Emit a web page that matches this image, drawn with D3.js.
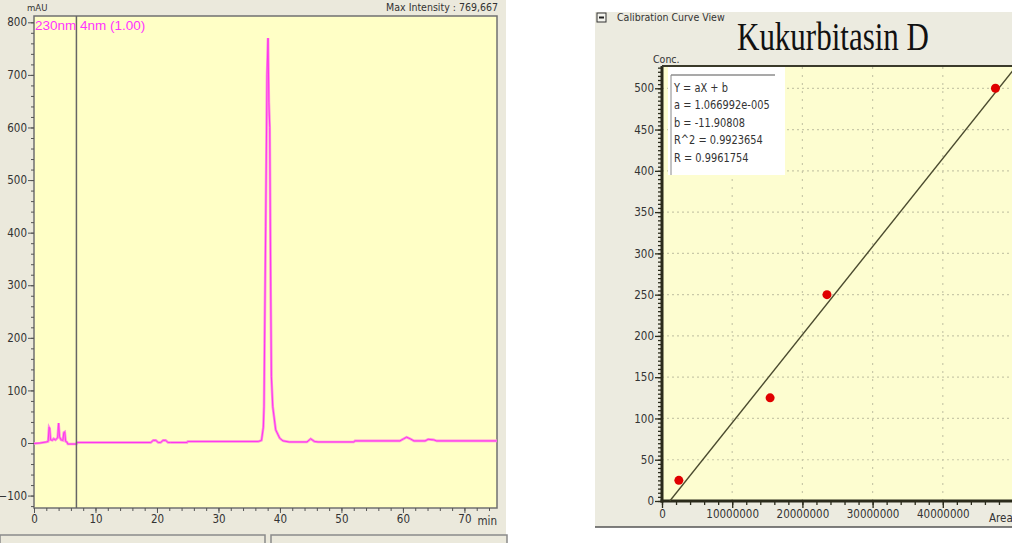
<!DOCTYPE html>
<html>
<head>
<meta charset="utf-8">
<script src="https://cdn.jsdelivr.net/npm/d3@7"></script>
<style>
  body { margin: 0; background: #fff; }
  svg { display: block; }
  .lbl { font-family: "Liberation Sans Narrow", "DejaVu Sans Condensed", "Liberation Sans", sans-serif; fill: #333; }
</style>
</head>
<body>
<svg width="1012" height="543"></svg>
<script>
// chromatogram (230nm), time in min, signal in mAU
const chromTime = [0, 1.0, 2.0, 2.3, 2.45, 2.55, 2.7, 3.0, 3.2, 3.5, 3.85, 4.0, 4.15, 4.4, 4.7, 4.85, 5.0, 5.15, 5.35, 5.5,
  6.9, 7.0, 19.0, 19.4, 19.8, 20.2, 20.6, 21.0, 21.4, 21.8, 22.2, 24.9, 25.0, 36.5, 37.0, 37.3, 37.41, 37.5, 37.68, 37.9,
  38.06, 38.2, 38.34, 38.5, 38.61, 38.83, 39.31, 39.97, 40.5, 41.5, 44.4, 45.0, 45.6, 46.2, 52.0, 52.2, 59.5, 60.1, 60.6, 61.2,
  61.8, 63.6, 64.1, 65.0, 65.5, 75.3];
const chromSignal = [-1, 0, 2, 3, 30, 28, 6, 5, 8, 6, 10, 38, 12, 6, 5, 20, 21, 3, 2, -2,
  -2, 1, 1, 5, 5, 1, 1, 5, 5, 1, 1, 1, 3, 3, 5, 30, 70, 190, 411, 700,
  770, 648, 600, 291, 126, 69, 25, 9, 4, 2, 2, 8, 3, 2, 2, 4, 4, 8, 11, 8,
  4, 4, 7, 6, 4, 4];
const markerTime = 6.9;
const chromYTicks = [-100, 0, 100, 200, 300, 400, 500, 600, 700, 800];
const chromXTicks = [0, 10, 20, 30, 40, 50, 60, 70];

// calibration standards
const calibArea = [2400000, 15400000, 23500000, 47500000];
const calibConc = [25, 125, 250, 500];
const slopeA = 1.066992e-5;
const interceptB = -11.90808;
const eqLines = ["Y = aX + b", "a = 1.066992e-005", "b = -11.90808", "R^2 = 0.9923654", "R = 0.9961754"];
const calibYTicks = [0, 50, 100, 150, 200, 250, 300, 350, 400, 450, 500];
const calibXTicks = [0, 10000000, 20000000, 30000000, 40000000];

const svg = d3.select("svg");

// ---------- left panel: chromatogram ----------
svg.append("rect").attr("x", 0).attr("y", 0).attr("width", 506).attr("height", 543).attr("fill", "#ebe9dc");

const xL = d3.scaleLinear().domain([0, 75.3]).range([34, 497]);
const yL = d3.scaleLinear().domain([-123.6, 812]).range([508, 16]);

svg.append("rect")
  .attr("x", xL(0)).attr("y", yL(812))
  .attr("width", xL(75.3) - xL(0)).attr("height", yL(-123.6) - yL(812))
  .attr("fill", "#ffffc6").attr("stroke", "#707070").attr("stroke-width", 1.5);

// minor + major ticks
svg.append("g").attr("transform", `translate(${xL(0)},0)`)
  .call(d3.axisLeft(yL).tickValues(d3.range(-120, 801, 20)).tickSize(3).tickFormat(""))
  .call(g => g.select(".domain").remove())
  .selectAll("line").attr("stroke", "#555");
svg.append("g").attr("transform", `translate(${xL(0)},0)`)
  .call(d3.axisLeft(yL).tickValues(chromYTicks).tickSize(6).tickPadding(1))
  .call(g => g.select(".domain").remove())
  .call(g => g.selectAll("line").attr("stroke", "#555"))
  .call(g => g.selectAll("text").attr("class", "lbl").attr("font-size", 11.5).attr("fill", "#333"));

svg.append("g").attr("transform", `translate(0,${yL(-123.6)})`)
  .call(d3.axisBottom(xL).tickValues(d3.range(0, 75, 2)).tickSize(3).tickFormat(""))
  .call(g => g.select(".domain").remove())
  .selectAll("line").attr("stroke", "#555");
svg.append("g").attr("transform", `translate(0,${yL(-123.6)})`)
  .call(d3.axisBottom(xL).tickValues(chromXTicks).tickSize(5).tickPadding(2))
  .call(g => g.select(".domain").remove())
  .call(g => g.selectAll("line").attr("stroke", "#555"))
  .call(g => g.selectAll("text").attr("class", "lbl").attr("font-size", 11.5).attr("fill", "#333"));

svg.append("text").attr("class", "lbl").attr("x", 497).attr("y", 525)
  .attr("text-anchor", "end").attr("font-size", 11.5).text("min");
svg.append("text").attr("class", "lbl").attr("x", 27).attr("y", 11)
  .attr("font-size", 9.5).text("mAU");
svg.append("text").attr("class", "lbl").attr("x", 498).attr("y", 11)
  .attr("text-anchor", "end").attr("font-size", 10.5).text("Max Intensity : 769,667");

// trace
const chromLine = d3.line().x((d, i) => xL(chromTime[i])).y(d => yL(d));
svg.append("path").datum(chromSignal).attr("d", chromLine)
  .attr("fill", "none").attr("stroke", "#ff8ee0").attr("stroke-width", 2.6);
svg.append("path").datum(chromSignal).attr("d", chromLine)
  .attr("fill", "none").attr("stroke", "#ff33ee").attr("stroke-width", 1);

// marker line
svg.append("line").attr("x1", xL(markerTime)).attr("x2", xL(markerTime))
  .attr("y1", yL(812)).attr("y2", yL(-123.6)).attr("stroke", "#666").attr("stroke-width", 1.5);

svg.append("text").attr("x", 35).attr("y", 30)
  .attr("font-family", "Liberation Sans, Arial, sans-serif").attr("font-size", 13.5)
  .attr("fill", "#ff33ff").text("230nm 4nm (1.00)");

// bottom tab strip
svg.append("rect").attr("x", 0).attr("y", 535).attr("width", 265).attr("height", 10)
  .attr("fill", "#ebe9dc").attr("stroke", "#8a8a8a").attr("stroke-width", 1.5);
svg.append("rect").attr("x", 271).attr("y", 535).attr("width", 236).attr("height", 10)
  .attr("fill", "#ebe9dc").attr("stroke", "#8a8a8a").attr("stroke-width", 1.5);

// ---------- right panel: calibration curve ----------
svg.append("rect").attr("x", 595).attr("y", 12).attr("width", 417).attr("height", 515).attr("fill", "#ecebe0");
svg.append("line").attr("x1", 595).attr("x2", 1012).attr("y1", 527).attr("y2", 527).attr("stroke", "#555").attr("stroke-width", 1.5);

const xR = d3.scaleLinear().domain([0, 50000000]).range([662, 1013]);
const yR = d3.scaleLinear().domain([0, 527]).range([501, 66]);

svg.append("rect").attr("x", xR(0)).attr("y", yR(527))
  .attr("width", 1012 - xR(0)).attr("height", yR(0) - yR(527)).attr("fill", "#fdfdd0");

// dotted grid
svg.append("g").selectAll("line").data(calibYTicks.slice(1)).join("line")
  .attr("x1", xR(0)).attr("x2", 1012).attr("y1", d => yR(d)).attr("y2", d => yR(d))
  .attr("stroke", "#c9c9a8").attr("stroke-width", 1.2).attr("stroke-dasharray", "2,3");
svg.append("g").selectAll("line").data(calibXTicks.slice(1)).join("line")
  .attr("x1", d => xR(d)).attr("x2", d => xR(d)).attr("y1", yR(0)).attr("y2", yR(527))
  .attr("stroke", "#c9c9a8").attr("stroke-width", 1.2).attr("stroke-dasharray", "2,6");

// axes
svg.append("g").attr("transform", `translate(${xR(0)},0)`)
  .call(d3.axisLeft(yR).tickValues(d3.range(0, 526, 5)).tickSize(4).tickFormat(""))
  .call(g => g.select(".domain").remove())
  .selectAll("line").attr("stroke", "#2b2b1b").attr("stroke-width", 1.3);
svg.append("g").attr("transform", `translate(${xR(0)},0)`)
  .call(d3.axisLeft(yR).tickValues(calibYTicks).tickSize(7).tickPadding(1))
  .call(g => g.select(".domain").remove())
  .call(g => g.selectAll("line").attr("stroke", "#2b2b1b").attr("stroke-width", 1.3))
  .call(g => g.selectAll("text").attr("class", "lbl").attr("font-size", 11.5).attr("fill", "#333"));

svg.append("g").attr("transform", `translate(0,${yR(0)})`)
  .call(d3.axisBottom(xR).tickValues(d3.range(0, 50000001, 2000000)).tickSize(4).tickFormat(""))
  .call(g => g.select(".domain").remove())
  .selectAll("line").attr("stroke", "#2b2b1b").attr("stroke-width", 1.3);
svg.append("g").attr("transform", `translate(0,${yR(0)})`)
  .call(d3.axisBottom(xR).tickValues(calibXTicks).tickSize(7).tickPadding(2).tickFormat(d3.format("d")))
  .call(g => g.select(".domain").remove())
  .call(g => g.selectAll("line").attr("stroke", "#2b2b1b").attr("stroke-width", 1.3))
  .call(g => g.selectAll("text").attr("class", "lbl").attr("font-size", 11.5).attr("fill", "#333"));

svg.append("line").attr("x1", xR(0)).attr("x2", xR(0)).attr("y1", yR(527)).attr("y2", yR(0) + 1.5)
  .attr("stroke", "#2b2b1b").attr("stroke-width", 3);
svg.append("line").attr("x1", xR(0) - 1.5).attr("x2", 1012).attr("y1", yR(0)).attr("y2", yR(0))
  .attr("stroke", "#2b2b1b").attr("stroke-width", 3);
svg.append("line").attr("x1", xR(0)).attr("x2", 1012).attr("y1", yR(527)).attr("y2", yR(527))
  .attr("stroke", "#3a3a2a").attr("stroke-width", 2);

svg.append("text").attr("class", "lbl").attr("x", 653).attr("y", 63).attr("font-size", 10.5).text("Conc.");
svg.append("text").attr("class", "lbl").attr("x", 989).attr("y", 522).attr("font-size", 11.5).text("Area");

// regression line, clipped to the plot
svg.append("clipPath").attr("id", "clipR").append("rect")
  .attr("x", xR(0)).attr("y", yR(527)).attr("width", 1012 - xR(0)).attr("height", yR(0) - yR(527));
const fitX = [-interceptB / slopeA, 50000000];
svg.append("line").attr("clip-path", "url(#clipR)")
  .attr("x1", xR(fitX[0])).attr("y1", yR(slopeA * fitX[0] + interceptB))
  .attr("x2", xR(fitX[1])).attr("y2", yR(slopeA * fitX[1] + interceptB))
  .attr("stroke", "#4a4a2e").attr("stroke-width", 1.4);

svg.append("g").selectAll("circle").data(calibArea).join("circle")
  .attr("cx", d => xR(d)).attr("cy", (d, i) => yR(calibConc[i])).attr("r", 4.5)
  .attr("fill", "#e00000");

// equation box
svg.append("rect").attr("x", 668).attr("y", 67).attr("width", 117).attr("height", 108).attr("fill", "#ffffff");
svg.append("line").attr("x1", 671).attr("x2", 775).attr("y1", 75).attr("y2", 75).attr("stroke", "#555").attr("stroke-width", 1.2);
svg.append("line").attr("x1", 671).attr("x2", 671).attr("y1", 75).attr("y2", 175).attr("stroke", "#888").attr("stroke-width", 1);
svg.append("g").attr("transform", "translate(674,0) scale(0.84,1)")
  .selectAll("text").data(eqLines).join("text")
  .attr("class", "lbl").attr("x", 0).attr("y", (d, i) => 92 + i * 17.4)
  .attr("font-size", 13).attr("fill", "#222").text(d => d);

// window caption + title
svg.append("rect").attr("x", 597).attr("y", 13).attr("width", 9).attr("height", 9)
  .attr("fill", "#f4f4ee").attr("stroke", "#333").attr("stroke-width", 1);
svg.append("line").attr("x1", 599).attr("x2", 604).attr("y1", 17.5).attr("y2", 17.5).attr("stroke", "#222").attr("stroke-width", 2);
svg.append("text").attr("class", "lbl").attr("x", 617).attr("y", 21).attr("font-size", 10.5).text("Calibration Curve View");
svg.append("text").attr("transform", "translate(737,50) scale(1,1.3)")
  .attr("font-family", "Liberation Serif, Times New Roman, serif").attr("font-size", 31)
  .attr("fill", "#111").text("Kukurbitasin D");
</script>
</body>
</html>
